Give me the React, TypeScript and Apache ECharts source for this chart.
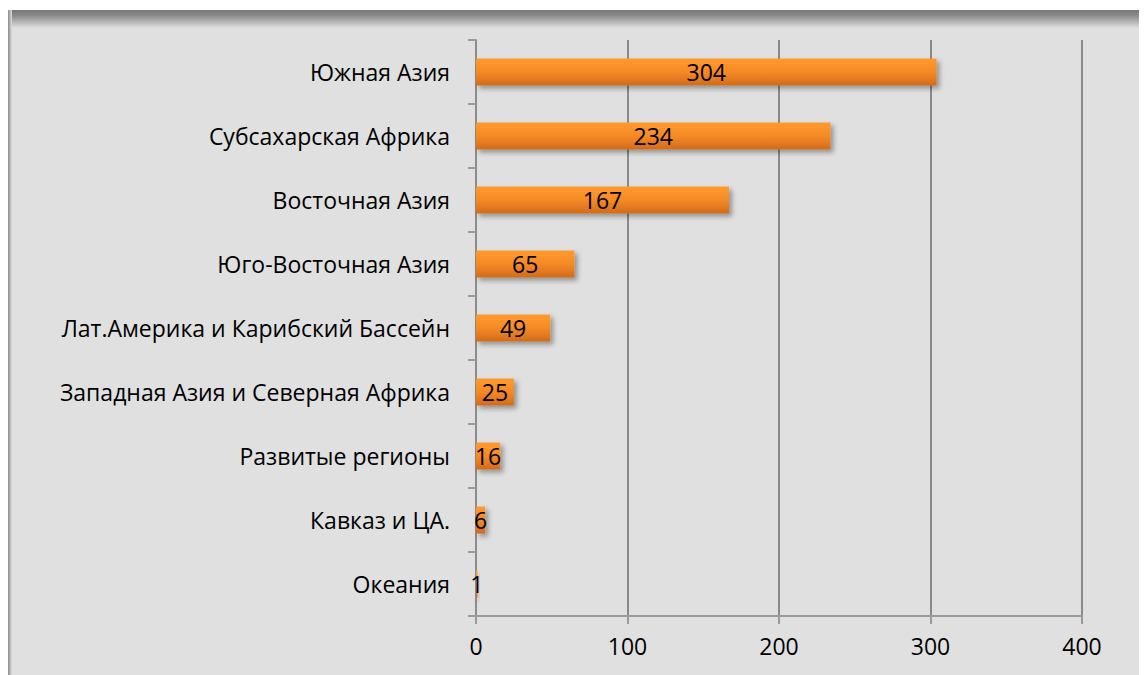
import React, { useEffect, useRef } from "react";
import * as echarts from "echarts";

const categories = [
  "Южная Азия",
  "Субсахарская Африка",
  "Восточная Азия",
  "Юго-Восточная Азия",
  "Лат.Америка и Карибский Бассейн",
  "Западная Азия и Северная Африка",
  "Развитые регионы",
  "Кавказ и ЦА.",
  "Океания",
];
const values = [304, 234, 167, 65, 49, 25, 16, 6, 1];
const axisMin = 0;
const axisMax = 400;
const axisStep = 100;

export default function App() {
  const ref = useRef<HTMLDivElement>(null);
  useEffect(() => {
    const chart = echarts.init(ref.current!, undefined, { renderer: "svg" });
    const font = "'Open Sans', 'Noto Sans', sans-serif";
    chart.setOption({
      animation: false,
      backgroundColor: "#e0e0e0",
      graphic: [
        {
          type: "rect",
          left: 0,
          top: 0,
          shape: { width: 1139, height: 18 },
          style: {
            fill: new echarts.graphic.LinearGradient(0, 0, 0, 1, [
              { offset: 0, color: "#787878" },
              { offset: 0.35, color: "#8e8e8e" },
              { offset: 1, color: "#e0e0e0" },
            ]),
          },
          silent: true,
        },
        {
          type: "rect",
          left: 0,
          top: 0,
          shape: { width: 4, height: 665 },
          style: {
            fill: new echarts.graphic.LinearGradient(0, 0, 1, 0, [
              { offset: 0, color: "#8a8a8a" },
              { offset: 1, color: "#e0e0e0" },
            ]),
          },
          silent: true,
        },
      ],
      grid: { left: 468, right: 65, top: 30, bottom: 59 },
      xAxis: {
        type: "value",
        min: axisMin,
        max: axisMax,
        interval: axisStep,
        axisLine: { show: true, lineStyle: { color: "#9a9a9a", width: 2 } },
        axisTick: { show: true, length: 8, lineStyle: { color: "#9a9a9a", width: 2 } },
        axisLabel: { color: "#000", fontSize: 23, fontFamily: font, margin: 18 },
        splitLine: { show: true, lineStyle: { color: "#8a8a8a", width: 2 } },
      },
      yAxis: {
        type: "category",
        data: categories,
        inverse: true,
        axisLine: { show: true, lineStyle: { color: "#8c8c8c", width: 2 } },
        axisTick: { show: true, length: 8, lineStyle: { color: "#9a9a9a", width: 2 } },
        axisLabel: { color: "#000", fontSize: 23, fontFamily: font, margin: 26 },
      },
      series: [
        {
          type: "bar",
          data: values,
          barWidth: 27,
          itemStyle: {
            color: new echarts.graphic.LinearGradient(0, 0, 0, 1, [
              { offset: 0, color: "#ff9a30" },
              { offset: 0.5, color: "#f58a25" },
              { offset: 1, color: "#d26b1c" },
            ]),
            shadowBlur: 5,
            shadowOffsetX: 3,
            shadowOffsetY: 3,
            shadowColor: "rgba(0,0,0,0.35)",
          },
          label: {
            show: true,
            position: "inside",
            color: "#000",
            fontSize: 23,
            fontFamily: font,
          },
        },
      ],
    });
    return () => chart.dispose();
  }, []);
  return (
    <div
      ref={ref}
      style={{ width: 1139, height: 665, marginTop: 2 }}
    />
  );
}
